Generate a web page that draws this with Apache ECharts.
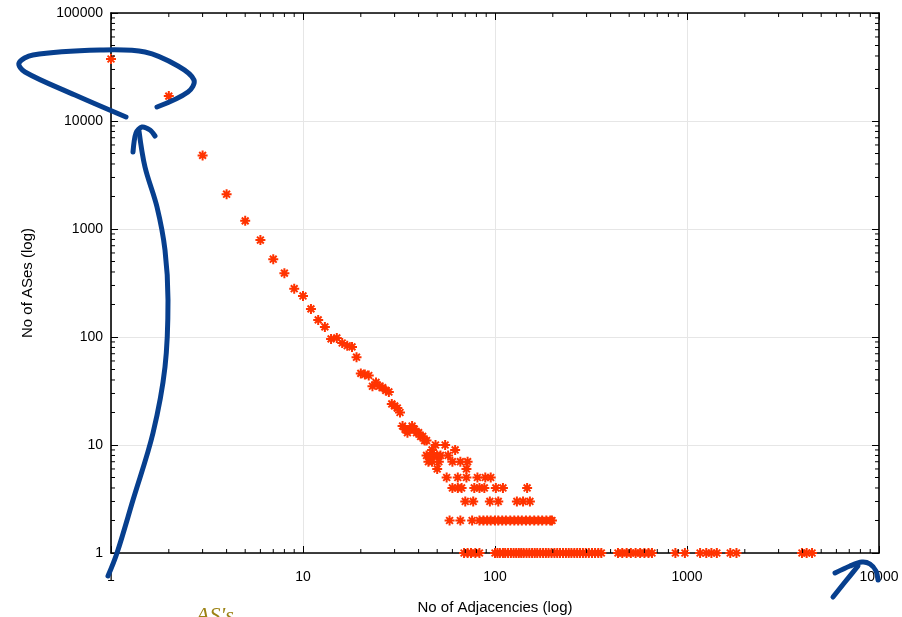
<!DOCTYPE html>
<html><head><meta charset="utf-8">
<script src="https://cdn.jsdelivr.net/npm/echarts@6/dist/echarts.min.js"></script>
<style>html,body{margin:0;padding:0;background:#fff}#c{width:902px;height:617px}</style>
</head><body><div id="c"></div>
<script>
// ---- data ----
const headAdj   = [1,2,3,4,5,6,7,8,9,10,11,12,13,14,15,16,17,18,19,20,21,22,23,24,25,26,27,28,29,30,31,32,33,34,35,36,37,38,39,40,41,42,43,44];
const headCount = [37500,17000,4800,2100,1190,790,525,390,280,240,182,144,124,96,98,88,83,81,65,46,45,44,35,38,35,34,32,31,24,23,22,20,15,14,13,14,15,14,13,13,12,12,11,11];
const adjWith10 = [49,55];
const adjWith9  = [47,62];
const adjWith8  = [44,46,48,50,52,57];
const adjWith7  = [45,47,51,60,66,72];
const adjWith6  = [50,71];
const adjWith5  = [56,64,71,81,89,95];
const adjWith4  = [60,64,67,78,83,88,101,110,147];
const adjWith3  = [70,77,94,104,130,140,152];
const adjWith2  = [58,66,76,83,87,91,95,100,104,109,114,120,126,132,138,145,152,160,168,176,185,194,198];
const adjWith1  = [69,72,75,79,83,100,103,106,110,113,117,121,125,129,133,137,141,146,151,156,161,166,172,178,184,190,197,204,211,218,226,234,242,250,259,268,277,287,297,308,320,332,345,358,437,460,485,510,540,570,600,630,657,870,975,1170,1260,1340,1430,1680,1810,3970,4200,4480];

const xTickLabels = ['1','10','100','1000','10000'];
const yTickLabels = ['1','10','100','1000','10000','100000'];
const xMinorTicks = [2,3,4,5,6,7,8,9,20,30,40,50,60,70,80,90,200,300,400,500,600,700,800,900,2000,3000,4000,5000,6000,7000,8000,9000];
const yMinorTicks = [2,3,4,5,6,7,8,9,20,30,40,50,60,70,80,90,200,300,400,500,600,700,800,900,2000,3000,4000,5000,6000,7000,8000,9000,20000,30000,40000,50000,60000,70000,80000,90000];
const xTitle = 'No of Adjacencies (log)';
const yTitle = 'No of ASes (log)';

// ---- build ----
const points = headAdj.map((a,i)=>[a, headCount[i]]);
[[10,adjWith10],[9,adjWith9],[8,adjWith8],[7,adjWith7],[6,adjWith6],[5,adjWith5],[4,adjWith4],[3,adjWith3],[2,adjWith2],[1,adjWith1]]
  .forEach(([c,arr])=>arr.forEach(a=>points.push([a,c])));

const FONT = '"Liberation Sans", Arial, Helvetica, sans-serif';
const RED = '#ff3300';
const BLUE = '#073f8e';

const baseX = {type:'log', logBase:10, min:1, max:10000};
const baseY = {type:'log', logBase:10, min:1, max:100000};
const axLine = {show:true, onZero:false, lineStyle:{color:'#000', width:1.6}};
const tick = {show:true, inside:true, length:7, lineStyle:{color:'#000', width:1}};

const chart = echarts.init(document.getElementById('c'), null, {renderer:'canvas'});
chart.setOption({
  animation:false,
  backgroundColor:'#fff',
  grid:{left:111, right:23, top:13, bottom:64, containLabel:false, outerBoundsMode:'none'},
  xAxis:[
    Object.assign({}, baseX, {position:'bottom', axisLine:axLine, axisTick:tick,
      axisLabel:{color:'#000', fontSize:14, fontFamily:FONT, margin:17,
        formatter:v=>xTickLabels[Math.round(Math.log10(v))]},
      splitLine:{show:true, lineStyle:{color:'#e6e6e6', width:1}},
      name:xTitle, nameLocation:'middle', nameGap:47,
      nameTextStyle:{color:'#000', fontSize:15, fontFamily:FONT}}),
    Object.assign({}, baseX, {position:'top', axisLine:axLine, axisTick:tick,
      axisLabel:{show:false}, splitLine:{show:false}})
  ],
  yAxis:[
    Object.assign({}, baseY, {position:'left', axisLine:axLine, axisTick:tick,
      axisLabel:{color:'#000', fontSize:14, fontFamily:FONT, margin:8,
        formatter:v=>yTickLabels[Math.round(Math.log10(v))]},
      splitLine:{show:true, lineStyle:{color:'#e6e6e6', width:1}},
      name:yTitle, nameLocation:'middle', nameGap:76, nameRotate:90,
      nameTextStyle:{color:'#000', fontSize:15, fontFamily:FONT}}),
    Object.assign({}, baseY, {position:'right', axisLine:axLine, axisTick:tick,
      axisLabel:{show:false}, splitLine:{show:false}})
  ],
  series:[
    {
      type:'scatter', xAxisIndex:0, yAxisIndex:0, data:points, clip:false,
      symbol:'path://M5 0L5 10M0 5L10 5M1.6 1.6L8.4 8.4M8.4 1.6L1.6 8.4',
      symbolSize:10,
      itemStyle:{color:RED, borderColor:RED, borderWidth:2, opacity:1},
      z:3
    },
    {
      type:'custom', xAxisIndex:0, yAxisIndex:0, silent:true, clip:false, z:4,
      data:xMinorTicks.map(v=>[v,1]),
      renderItem:(params, api)=>{
        const x = api.coord([api.value(0), 1])[0];
        const cs = params.coordSys;
        return {type:'group', children:[
          {type:'line', shape:{x1:x, y1:cs.y+cs.height, x2:x, y2:cs.y+cs.height-4}, style:{stroke:'#000', lineWidth:1}},
          {type:'line', shape:{x1:x, y1:cs.y, x2:x, y2:cs.y+4}, style:{stroke:'#000', lineWidth:1}}
        ]};
      }
    },
    {
      type:'custom', xAxisIndex:0, yAxisIndex:0, silent:true, clip:false, z:4,
      data:yMinorTicks.map(v=>[1,v]),
      renderItem:(params, api)=>{
        const y = api.coord([1, api.value(1)])[1];
        const cs = params.coordSys;
        return {type:'group', children:[
          {type:'line', shape:{x1:cs.x, y1:y, x2:cs.x+4, y2:y}, style:{stroke:'#000', lineWidth:1}},
          {type:'line', shape:{x1:cs.x+cs.width, y1:y, x2:cs.x+cs.width-4, y2:y}, style:{stroke:'#000', lineWidth:1}}
        ]};
      }
    }
  ],
  graphic:[
    {type:'polyline', z:100, shape:{smooth:0.35, points:[[126,117],[75,95],[25,72],[19,63],[33,55],[100,50],[145,52],[178,66],[194,80],[188,92],[157,107]]},
      style:{stroke:BLUE, lineWidth:5, fill:null, lineCap:'round', lineJoin:'round'}},
    {type:'polyline', z:100, shape:{smooth:0.35, points:[[108,576],[117,553],[133,500],[153,433],[165,367],[168,300],[165,250],[157,207],[145,167],[139,131]]},
      style:{stroke:BLUE, lineWidth:5, fill:null, lineCap:'round', lineJoin:'round'}},
    {type:'polyline', z:100, shape:{smooth:0.3, points:[[133,152],[136,133],[142,127],[150,130],[155,136]]},
      style:{stroke:BLUE, lineWidth:5, fill:null, lineCap:'round', lineJoin:'round'}},
    {type:'polyline', z:100, shape:{smooth:0.3, points:[[833,597],[845,582],[858,566]]},
      style:{stroke:BLUE, lineWidth:5, fill:null, lineCap:'round', lineJoin:'round'}},
    {type:'polyline', z:100, shape:{smooth:0.3, points:[[835,573],[850,566],[862,562],[870,564],[876,571],[878,580]]},
      style:{stroke:BLUE, lineWidth:5, fill:null, lineCap:'round', lineJoin:'round'}},
    {type:'text', z:100, left:196, top:605, style:{text:"AS's", fill:'#9c8214', font:'italic 22px "Liberation Serif", serif'}}
  ]
});
</script>
</body></html>
